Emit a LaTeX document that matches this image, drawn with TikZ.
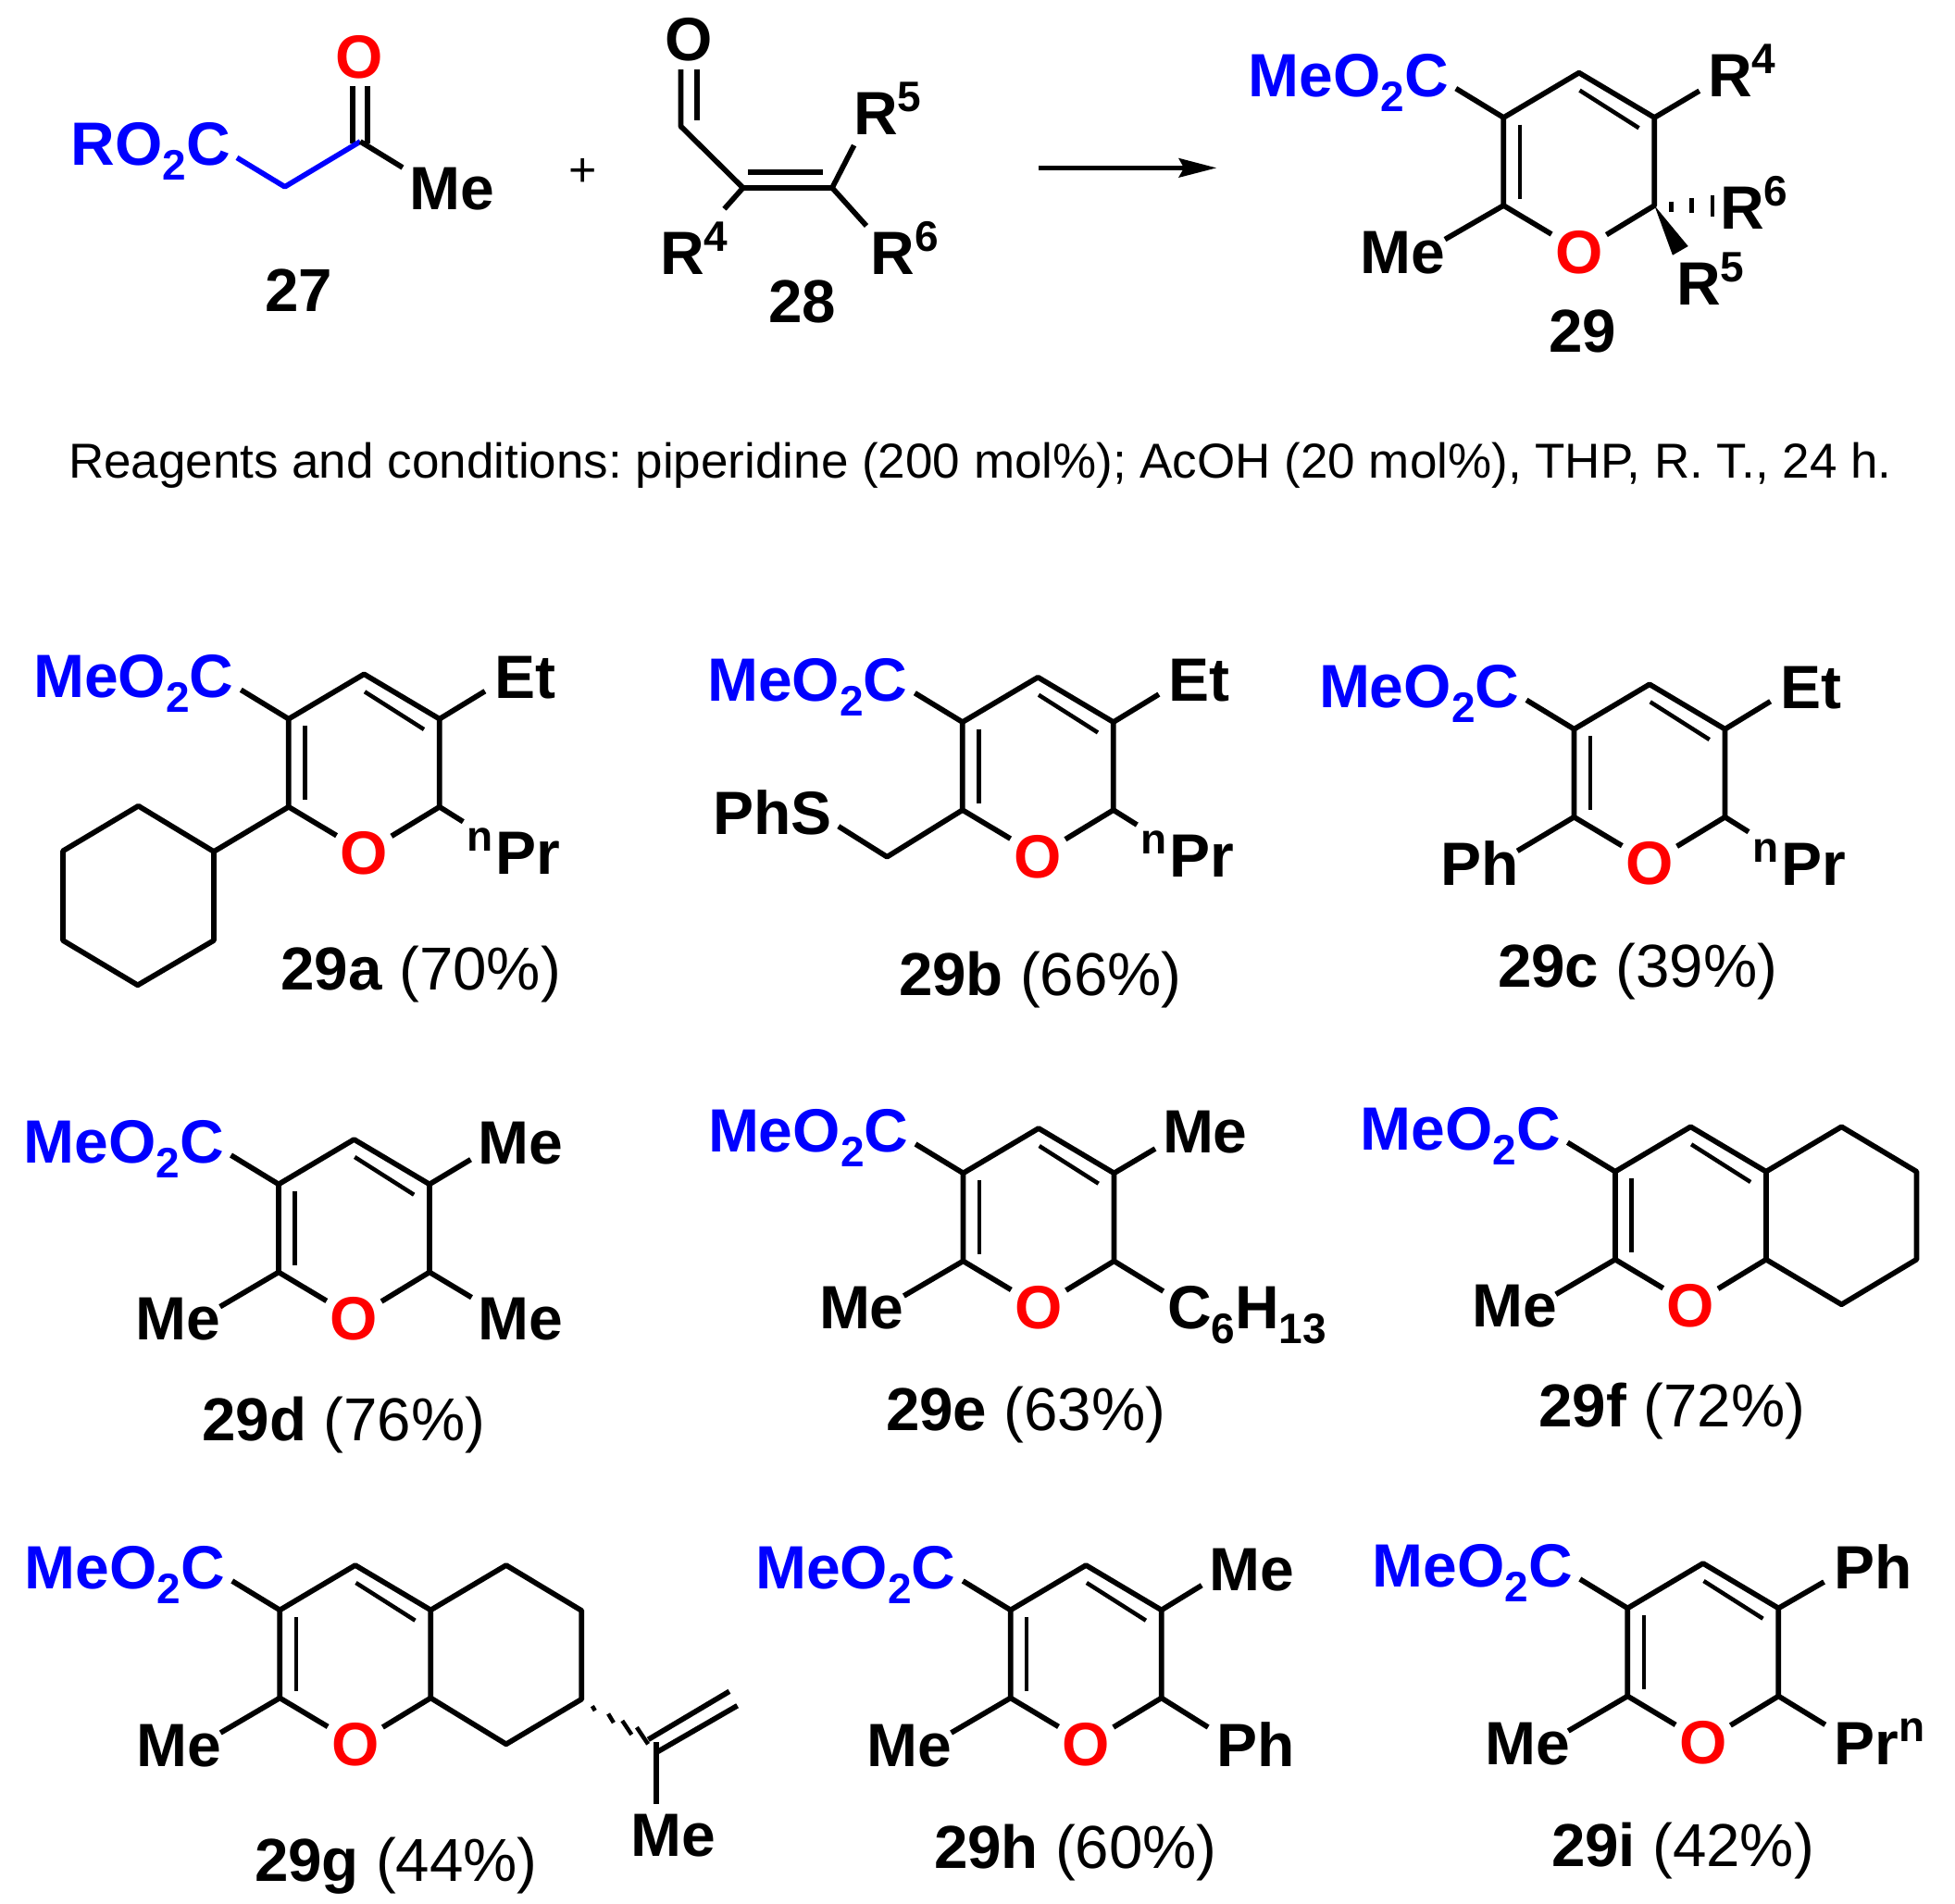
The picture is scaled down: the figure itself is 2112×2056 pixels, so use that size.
\documentclass[tikz,border=0pt]{standalone}
\usepackage{fontspec}
\setmainfont{Liberation Sans}
\frenchspacing
\newcommand{\bigb}{\fontsize{66}{72}\selectfont\bfseries}
\newcommand{\subd}[1]{\raisebox{-16pt}{\fontsize{46}{50}\selectfont #1}}
\newcommand{\supd}[1]{\raisebox{25pt}{\fontsize{46}{50}\selectfont #1}}
\definecolor{chemblue}{RGB}{0,0,255}
\definecolor{chemred}{RGB}{255,0,0}
\tikzset{
  bond/.style={line width=5.7pt,line join=round,black},
  inner/.style={line width=4.5pt,black},
  bluebond/.style={line width=5.7pt,line join=round,chemblue},
  hash/.style={line width=4.5pt,black},
  txt/.style={font=\bigb,inner sep=0pt,outer sep=0pt,anchor=base west,xshift=-4pt},
  ester/.style={txt,text=chemblue},
  oxy/.style={font=\bigb,inner sep=0pt,outer sep=0pt,anchor=base,text=chemred},
  lab/.style={font=\fontsize{65.5}{72}\selectfont,inner sep=0pt,outer sep=0pt,anchor=base west},
}
% scaffold in a shifted scope; origin = ring CH
\newcommand{\pyran}[1]{%
  \coordinate (#1ch) at (0,0);
  \coordinate (#1c3) at (-81.5,48.4);
  \coordinate (#1c5) at (81.5,48.4);
  \coordinate (#1c6) at (81.5,143.4);
  \coordinate (#1c2) at (-81.5,143.4);
  \coordinate (#1oa) at (-29.7,174.4);
  \coordinate (#1ob) at (29.6,175);
  \coordinate (#1es) at (-133,17);
  \coordinate (#1ia) at (-64,56);
  \coordinate (#1ib) at (-64,136);
  \coordinate (#1ic) at (0.7,19);
  \coordinate (#1id) at (64.7,59.7);
  \node[oxy] (#1o) at (0,216.5) {O};
  \node[ester] (#1me) at (-353,25.5) {MeO\subd{2}C};
  \draw[bond] (#1es) -- (#1c3) -- (#1ch) -- (#1c5) -- (#1c6) -- (#1ob);
  \draw[bond] (#1c3) -- (#1c2) -- (#1oa);
  \draw[inner] (#1ia) -- (#1ib);
  \draw[inner] (#1ic) -- (#1id);
}
\newcommand{\subbond}[4]{\coordinate (#1) at (#3,#4); \draw[bond] (#2) -- (#1);}
\begin{document}
\begin{tikzpicture}[x=1pt,y=-1pt]
\useasboundingbox (0,0) rectangle (2112,2056);

% --- 27
\coordinate (k1) at (256,170.4);
\coordinate (k2) at (307.7,201.8);
\coordinate (k3) at (389.2,152.9);
\coordinate (k4) at (435,181);
\coordinate (koa) at (381,92.9);
\coordinate (kob) at (397.3,92.9);
\coordinate (koc) at (381,155);
\coordinate (kod) at (397.3,155);
\node[ester] (kest) at (80.5,178.6) {RO\subd{2}C};
\node[oxy] (koxy) at (388.6,84) {O};
\node[txt] (kme) at (446.5,226.5) {Me};
\node[lab] (l27) at (286.5,336.8) {\textbf{27}};
\draw[bond] (koa) -- (koc);
\draw[bond] (kob) -- (kod);
\draw[bluebond] (k1) -- (k2) -- (k3);
\draw[bond] (k3) -- (k4);
\node[font=\fontsize{52}{56}\selectfont,inner sep=0pt] (plus) at (629.6,186) {+};

% --- 28
\coordinate (e1) at (735.4,136.4);
\coordinate (e2) at (802.7,202.9);
\coordinate (e3) at (899,202.9);
\coordinate (eoa) at (735.4,75);
\coordinate (eob) at (752.9,75);
\coordinate (eoc) at (752.9,130);
\coordinate (eia) at (808,185.7);
\coordinate (eib) at (889,185.7);
\node[oxy,text=black] (eoxy) at (744,65.5) {O};
\node[txt] (er5) at (926,145.4) {R\supd{5}};
\node[txt] (er6) at (944.8,296.4) {R\supd{6}};
\node[txt] (er4) at (717,296.4) {R\supd{4}};
\node[lab] (l28) at (830,348) {\textbf{28}};
\draw[bond] (eoa) -- (e1) -- (e2) -- (e3);
\draw[bond] (eob) -- (eoc);
\draw[bond] (eia) -- (eib);
\subbond{e5}{e3}{922.6}{157}
\subbond{e6}{e3}{936}{244}
\subbond{e4}{e2}{782.5}{225.7}

% --- arrow
\coordinate (ara) at (1122,181.4);
\coordinate (arb) at (1279,181.4);
\coordinate (arc) at (1314,181.4);
\coordinate (ard) at (1273,170.7);
\coordinate (are) at (1273,192);
\draw[line width=4.4pt] (ara) -- (arb);
\fill (arc) -- (ard) -- (arb) -- (are) -- cycle;

% --- 29
\begin{scope}[shift={(1705.8,78.6)}]
\pyran{p}
\subbond{pr4}{pc5}{130}{19.6}
\subbond{pm}{pc2}{-144.8}{180}
\node[txt] (pt4) at (143.5,26) {R\supd{4}};
\node[txt] (ptm) at (-232,217) {Me};
\node[txt] (pt6) at (156.2,168.4) {R\supd{6}};
\node[txt] (pt5) at (109.2,250.4) {R\supd{5}};
\coordinate (pha) at (99.7,139); \coordinate (phb) at (99.7,150);
\coordinate (phc) at (121.9,135.4); \coordinate (phd) at (121.9,151.4);
\coordinate (phe) at (144.2,132.4); \coordinate (phf) at (144.2,155.4);
\draw[hash] (pha) -- (phb);
\draw[hash] (phc) -- (phd);
\draw[hash] (phe) -- (phf);
\coordinate (pwa) at (101.1,197.1);
\coordinate (pwb) at (117.9,187.4);
\fill (pc6) -- (pwa) -- (pwb) -- cycle;
\end{scope}
\node[lab] (l29) at (1673,380.4) {\textbf{29}};

% --- conditions
\node[lab,font=\fontsize{53}{58}\selectfont] (cond) at (74,516.5) {Reagents and conditions: piperidine (200 mol\%); AcOH (20 mol\%), THP, R. T., 24 h.};

% --- 29a
\begin{scope}[shift={(393.3,728.3)}]
\pyran{a}
\subbond{ar}{ac5}{130.6}{18.4}
\subbond{apr}{ac6}{107}{159.4}
\node[txt] (aet) at (145.4,25.7) {Et};
\node[txt] (an) at (115,215.7) {\supd{n}\kern3pt Pr};
\coordinate (cy1) at (-162.3,191.7);
\coordinate (cy2) at (-243.8,142.4);
\coordinate (cy3) at (-325.3,191);
\coordinate (cy4) at (-325.3,287.7);
\coordinate (cy5) at (-244.5,336);
\coordinate (cy6) at (-162.3,287.7);
\draw[bond] (ac2) -- (cy1);
\draw[bond] (cy1) -- (cy2) -- (cy3) -- (cy4) -- (cy5) -- (cy6) -- cycle;
\end{scope}
\node[lab] (l29a) at (303.4,1069.3) {\textbf{29a} (70\%)};

% --- 29b
\begin{scope}[shift={(1121.3,731.7)}]
\pyran{b}
\subbond{br}{bc5}{130.6}{18.4}
\subbond{bpr}{bc6}{107}{159.4}
\node[txt] (bet) at (145.4,25.7) {Et};
\node[txt] (bn) at (115,215.7) {\supd{n}\kern3pt Pr};
\node[txt] (bps) at (-346.9,170) {PhS};
\coordinate (bs1) at (-215.5,161);
\coordinate (bs2) at (-163,194);
\draw[bond] (bc2) -- (bs2) -- (bs1);
\end{scope}
\node[lab] (l29b) at (971,1075) {\textbf{29b} (66\%)};

% --- 29c
\begin{scope}[shift={(1782,739.3)}]
\pyran{c}
\subbond{cr}{cc5}{130.6}{18.4}
\subbond{cpr}{cc6}{107}{159.4}
\subbond{cph}{cc2}{-142.8}{180}
\node[txt] (cet) at (145.4,25.7) {Et};
\node[txt] (cn) at (115,216.7) {\supd{n}\kern3pt Pr};
\node[txt] (cpt) at (-222,216.7) {Ph};
\end{scope}
\node[lab] (l29c) at (1618,1066) {\textbf{29c} (39\%)};

% --- 29d
\begin{scope}[shift={(382.5,1231)}]
\pyran{d}
\subbond{dr}{dc5}{126}{21.7}
\subbond{dl}{dc2}{-144.8}{180.7}
\subbond{dq}{dc6}{127}{170.7}
\node[txt] (dm1) at (138,26.5) {Me};
\node[txt] (dm2) at (-232,216.5) {Me};
\node[txt] (dm3) at (138,216.5) {Me};
\end{scope}
\node[lab] (l29d) at (218.5,1556.7) {\textbf{29d} (76\%)};

% --- 29e
\begin{scope}[shift={(1122,1219)}]
\pyran{e}
\subbond{er}{ec5}{126}{22}
\subbond{el}{ec2}{-145.6}{181}
\subbond{eq}{ec6}{134.7}{176}
\node[txt] (em1) at (138,26) {Me};
\node[txt] (em2) at (-233,216.5) {Me};
\node[txt] (ehx) at (143,216) {C\subd{6}H\subd{13}};
\end{scope}
\node[lab] (l29e) at (957,1545) {\textbf{29e} (63\%)};

% --- 29f
\begin{scope}[shift={(1826.4,1217.3)}]
\pyran{f}
\subbond{fl}{fc2}{-145.6}{181}
\node[txt] (fm) at (-232,216.5) {Me};
\coordinate (f1) at (163,0);
\coordinate (f2) at (244,48.4);
\coordinate (f3) at (244,143.4);
\coordinate (f4) at (163,192);
\draw[bond] (fc5) -- (f1) -- (f2) -- (f3) -- (f4) -- (fc6);
\end{scope}
\node[lab] (l29f) at (1662.4,1541.7) {\textbf{29f} (72\%)};

% --- 29g
\begin{scope}[shift={(383.8,1691)}]
\pyran{g}
\subbond{gl}{gc2}{-145.6}{181}
\node[txt] (gm) at (-232.6,217) {Me};
\coordinate (g1) at (163,0);
\coordinate (g2) at (244.5,49);
\coordinate (g3) at (244.5,144.7);
\coordinate (g4) at (163,193.3);
\draw[bond] (gc5) -- (g1) -- (g2) -- (g3) -- (g4) -- (gc6);
\coordinate (gv) at (325.2,202.3);
\coordinate (gvt) at (325.2,191);
\coordinate (gvb) at (325.2,258.3);
\coordinate (gca) at (412.8,151.7);
\coordinate (gcb) at (316.5,188.3);
\coordinate (gcc) at (404.1,136.3);
\draw[bond] (gvt) -- (gvb);
\draw[bond] (gv) -- (gca);
\draw[bond] (gcb) -- (gcc);
\coordinate (gh1a) at (256,152.1); \coordinate (gh1b) at (259,157.1);
\coordinate (gh2a) at (273.3,160.5); \coordinate (gh2b) at (279.1,170.1);
\coordinate (gh3a) at (288.5,168); \coordinate (gh3b) at (298.5,183);
\coordinate (gh4a) at (304.1,175.1); \coordinate (gh4b) at (316.3,193.3);
\draw[hash] (gh1a) -- (gh1b);
\draw[hash] (gh2a) -- (gh2b);
\draw[hash] (gh3a) -- (gh3b);
\draw[hash] (gh4a) -- (gh4b);
\node[txt] (gm2) at (301.5,314) {Me};
\end{scope}
\node[lab] (l29g) at (275,2032.3) {\textbf{29g} (44\%)};

% --- 29h
\begin{scope}[shift={(1173.2,1691)}]
\pyran{h}
\subbond{hr}{hc5}{125}{21.7}
\subbond{hl}{hc2}{-145.6}{181}
\subbond{hq}{hc6}{131.9}{175}
\node[txt] (hm1) at (137.3,27) {Me};
\node[txt] (hm2) at (-233,217) {Me};
\node[txt] (hp) at (145.4,217) {Ph};
\end{scope}
\node[lab] (l29h) at (1009,2018) {\textbf{29h} (60\%)};

% --- 29i
\begin{scope}[shift={(1839.8,1689)}]
\pyran{i}
\subbond{ir}{ic5}{130.7}{20}
\subbond{il}{ic2}{-145.6}{181}
\subbond{iq}{ic6}{132}{174.3}
\node[txt] (ip) at (145.5,27) {Ph};
\node[txt] (im) at (-231,217) {Me};
\node[txt] (ipr) at (145.5,217.7) {Pr\supd{n}};
\end{scope}
\node[lab] (l29i) at (1676,2016) {\textbf{29i} (42\%)};
\end{tikzpicture}
\end{document}
